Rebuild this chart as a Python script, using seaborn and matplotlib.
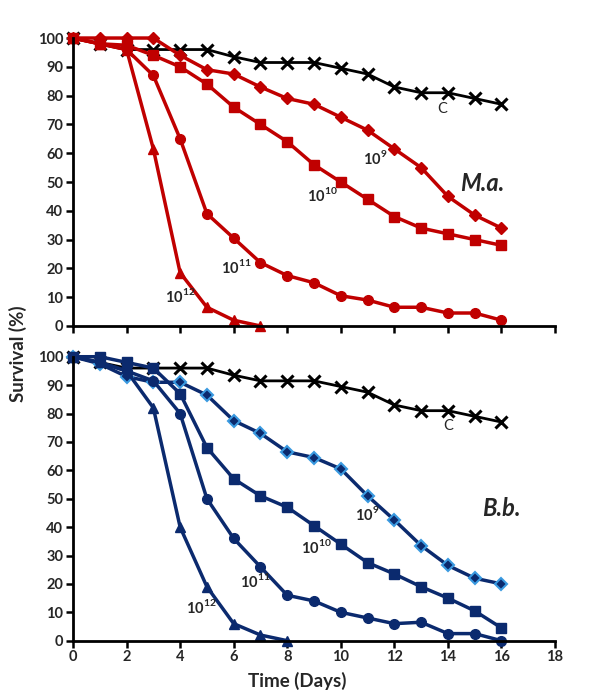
import matplotlib
matplotlib.use("Agg")
import matplotlib.pyplot as plt
import seaborn as sns
import pandas as pd

sns.set_theme(style="white")
plt.rcParams['font.family'] = ['Lato', 'DejaVu Sans']
plt.rcParams['mathtext.fontset'] = 'custom'
plt.rcParams['mathtext.rm'] = 'Lato:bold'
plt.rcParams['mathtext.bf'] = 'Lato:bold'

days = list(range(17))

# Metarhizium anisopliae (M.a.) panel
ma_c   = [100, 98, 96, 96, 96, 96, 93.5, 91.5, 91.5, 91.5, 89.5, 87.5, 83, 81, 81, 79, 77]
ma_e9  = [100, 100, 100, 100, 94, 89, 87.5, 83, 79, 77, 72.5, 68, 61.5, 55, 45, 38.5, 34]
ma_e10 = [100, 98, 97.5, 94, 90, 84, 76, 70, 64, 56, 50, 44, 38, 34, 32, 30, 28]
ma_e11 = [100, 98, 96, 87, 65, 39, 30.5, 22, 17.5, 15, 10.5, 9, 6.5, 6.5, 4.5, 4.5, 2]
ma_e12 = [100, 98, 96, 61.5, 18.5, 6.5, 2, 0]

# Beauveria bassiana (B.b.) panel
bb_c   = [100, 98, 96, 96, 96, 96, 93.5, 91.5, 91.5, 91.5, 89.5, 87.5, 83, 81, 81, 79, 77]
bb_e9  = [100, 97.5, 93, 91, 91, 86.5, 77.5, 73, 66.5, 64.5, 60.5, 51, 42.5, 33.5, 26.5, 22, 20]
bb_e10 = [100, 100, 98, 96, 87, 68, 57, 51, 47, 40.5, 34, 27.5, 23.5, 19, 15, 10.5, 4.5]
bb_e11 = [100, 98, 95, 91.5, 80, 50, 36, 26, 16, 14, 10, 8, 6, 6.5, 2.5, 2.5, 0]
bb_e12 = [100, 98, 95, 82, 40, 19, 6, 2, 0]

RED = "#C00000"
NAVY = "#0B2A6E"
LIGHT = "#3A9AE0"

fig = plt.figure(figsize=(6.0, 6.94), dpi=100)
ax1 = fig.add_axes([0.1217, 0.5303, 0.8033, 0.4149])
ax2 = fig.add_axes([0.1217, 0.0768, 0.8033, 0.4092])

def draw(ax, series, color, lbl_pos, name, name_pos, c_pos, diamond_edge=None):
    c = series[0]
    sns.lineplot(x=days[:len(c)], y=c, ax=ax, color="black", linewidth=2.0, clip_on=False)
    ax.plot(days[:len(c)], c, linestyle="none", marker="x", color="black",
            markersize=9, markeredgewidth=2.2, clip_on=False)
    markers = ["D", "s", "o", "^"]
    sizes = [6, 7, 7, 7]
    for vals, m, ms, i in zip(series[1:], markers, sizes, range(4)):
        edge = diamond_edge if (i == 0 and diamond_edge) else color
        sns.lineplot(x=days[:len(vals)], y=vals, ax=ax, color=color, marker=m,
                     markersize=ms, markeredgecolor=edge,
                     markeredgewidth=1.5 if (i == 0 and diamond_edge) else 1.0,
                     linewidth=2.5, clip_on=False)
    ax.set_xlim(0, 18)
    ax.set_ylim(0, 100)
    ax.set_xticks(range(0, 19, 2))
    ax.set_yticks(range(0, 101, 10))
    for s in ["top", "right"]:
        ax.spines[s].set_visible(False)
    for s in ["left", "bottom"]:
        ax.spines[s].set_color("black")
        ax.spines[s].set_linewidth(2.0)
    ax.tick_params(axis="both", direction="out", length=5, width=1.8, color="black",
                   labelsize=10.5, pad=2, left=True, bottom=True)
    for t in ax.get_xticklabels() + ax.get_yticklabels():
        t.set_fontweight("bold")
    ax.set_xlabel("")
    ax.set_ylabel("")
    ax.text(c_pos[0], c_pos[1], "C", fontsize=10.5, ha="center", va="center")
    for (x, y), e in zip(lbl_pos, ["9", "10", "11", "12"]):
        ax.text(x, y, r"$\mathbf{10}^{\mathrm{%s}}$" % e, fontsize=10.5, ha="center", va="center")
    ax.text(name_pos[0], name_pos[1], name, fontsize=17, fontweight="bold",
            fontstyle="italic", ha="center", va="center")

draw(ax1, [ma_c, ma_e9, ma_e10, ma_e11, ma_e12], RED,
     [(11.3, 58.5), (9.3, 45.5), (6.1, 20.5), (4.0, 10.5)], "M.a.", (15.3, 49.5), (13.8, 75.5))
draw(ax2, [bb_c, bb_e9, bb_e10, bb_e11, bb_e12], NAVY,
     [(11.0, 44.5), (9.1, 33), (6.8, 21), (4.8, 12)], "B.b.", (16.0, 46.5), (14.0, 75.5),
     diamond_edge=LIGHT)

ax1.set_xticklabels([])
fig.text(0.495, 0.019, "Time (Days)", fontsize=13.5, fontweight="bold",
         ha="center", va="center")
fig.text(0.03, 0.49, "Survival (%)", rotation=90, fontsize=13.5, fontweight="bold",
         ha="center", va="center")

fig.savefig("out.png", dpi=100, facecolor="white")
